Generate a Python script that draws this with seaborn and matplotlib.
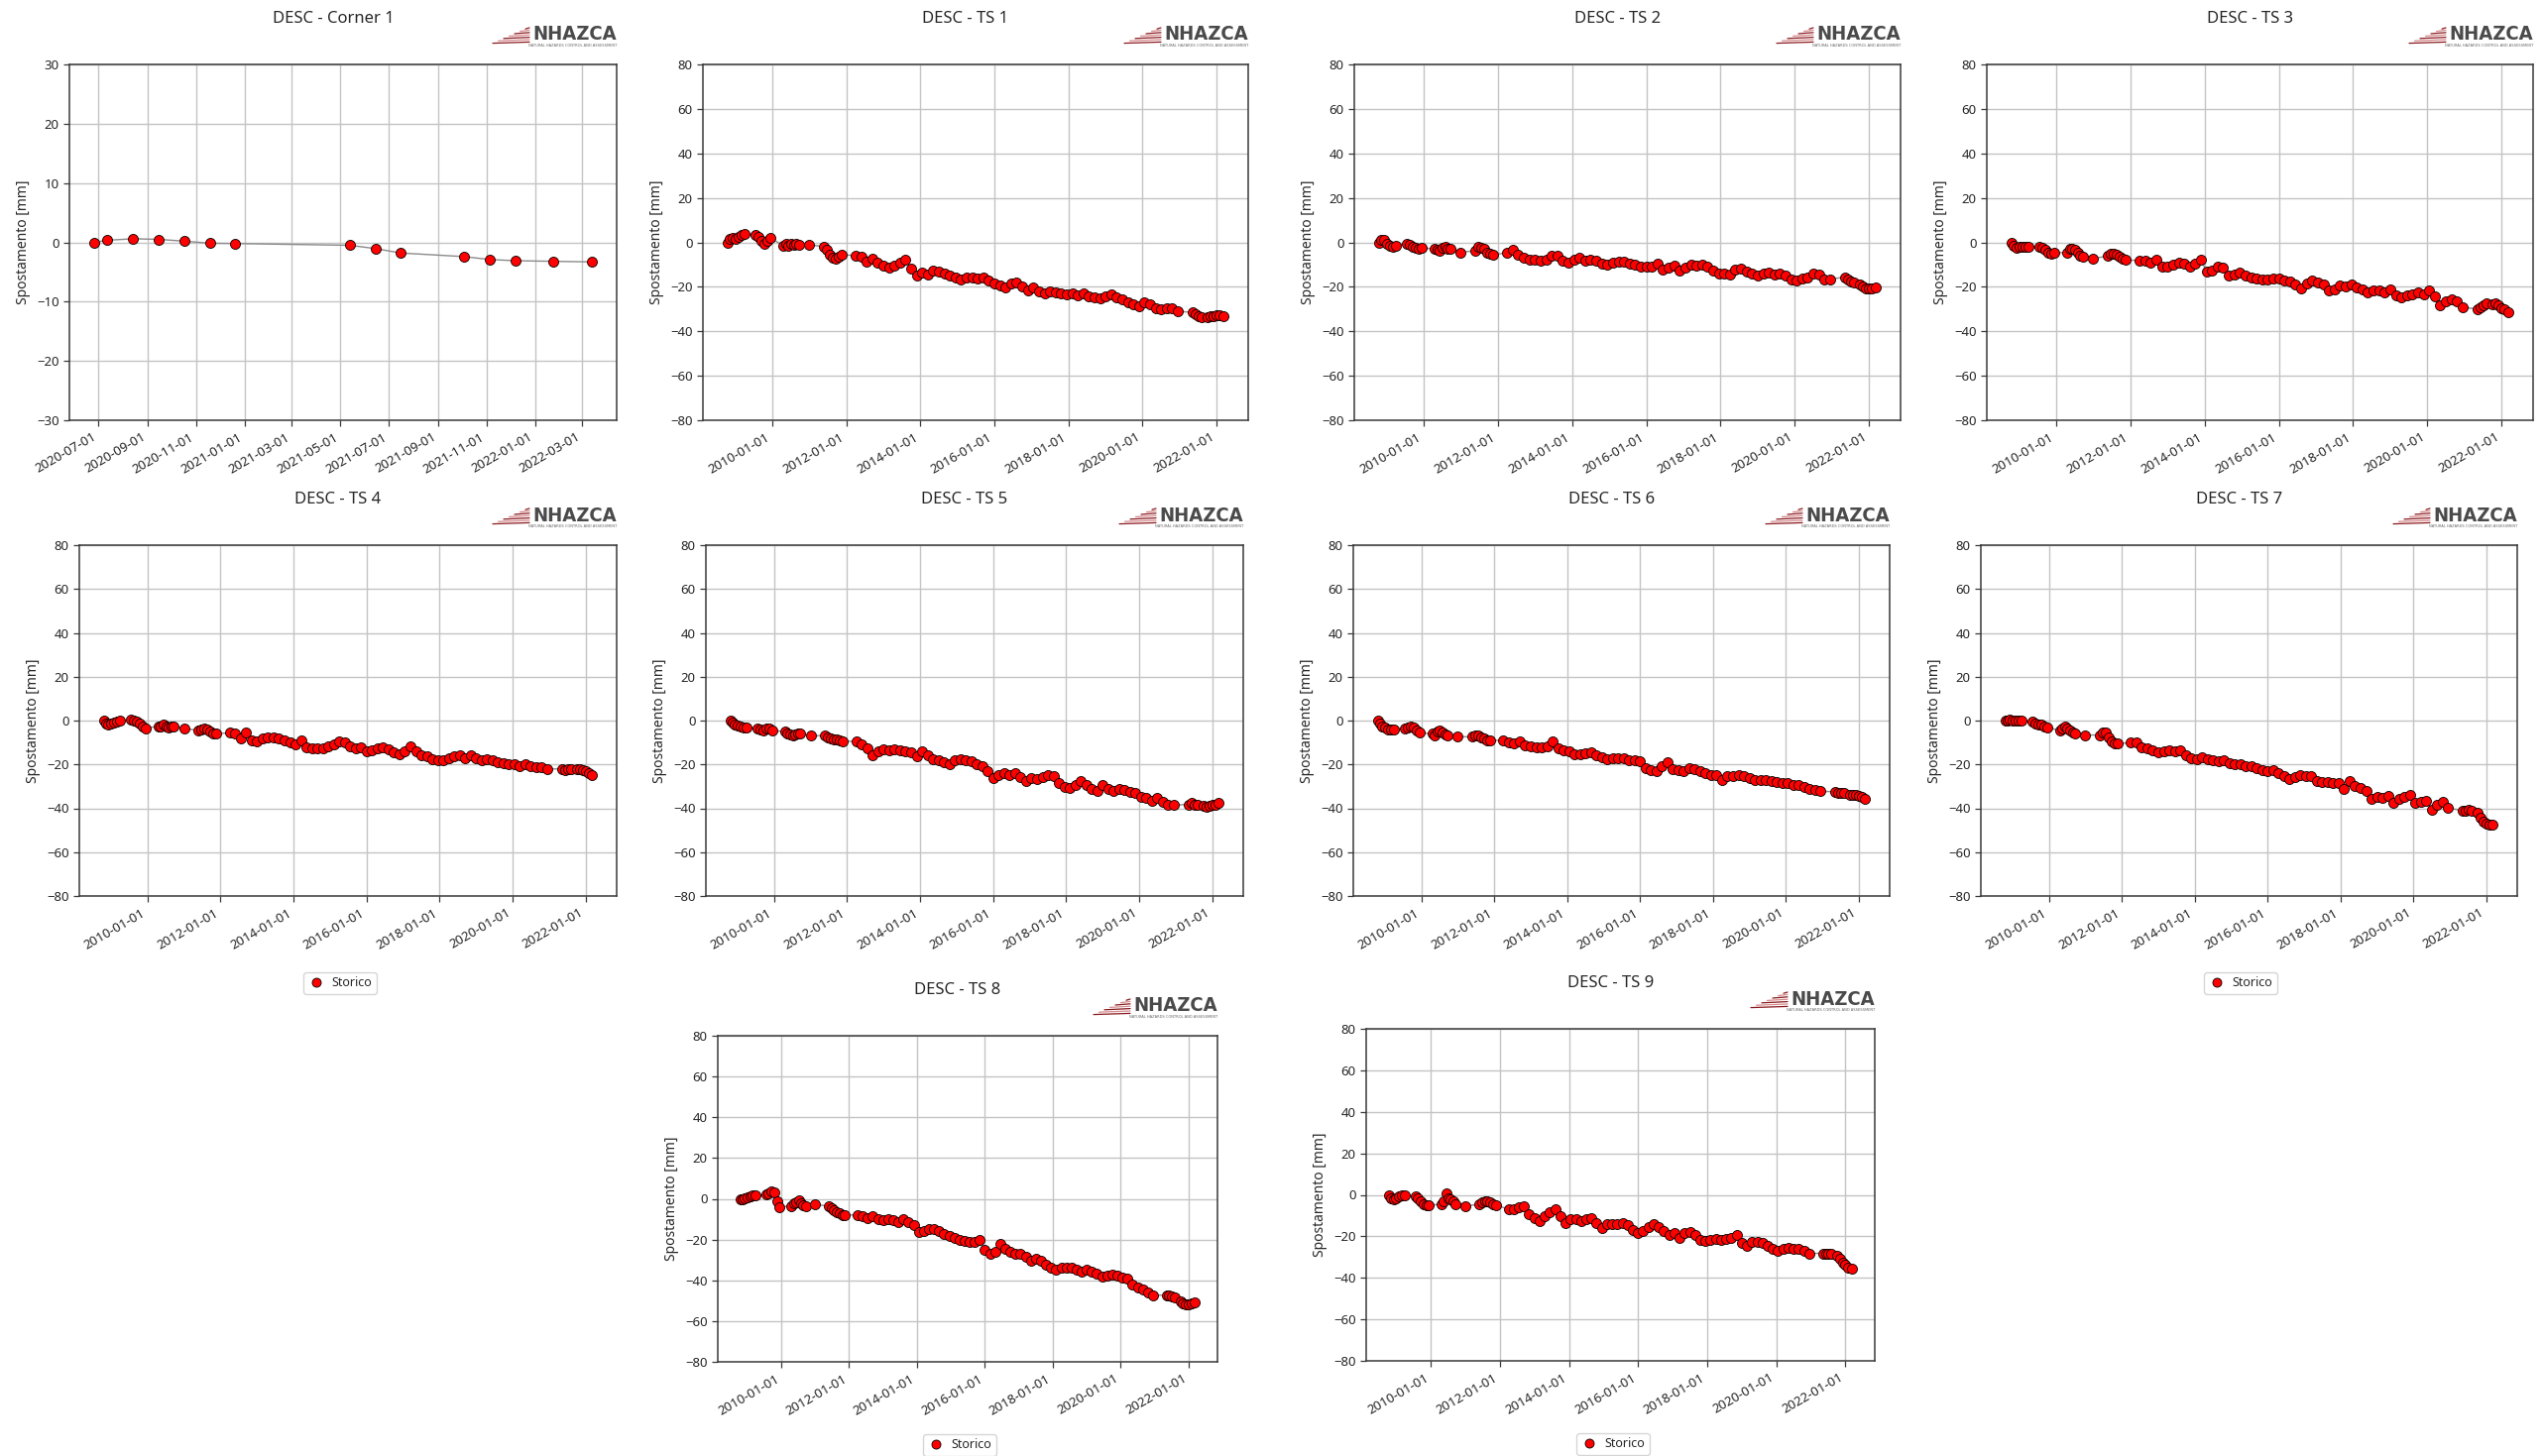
"""
DESC time series (NHAZCA report) - Corner 1 + TS 1..9
"""
import numpy as np
import pandas as pd
import matplotlib
matplotlib.use('Agg')
import matplotlib.pyplot as plt
import matplotlib.dates as mdates
from matplotlib.lines import Line2D
import seaborn as sns

# ─────────────────────────────────────────────
# DATA
# ─────────────────────────────────────────────

# Corner reflector (monthly acquisitions)
CORNER_DATES = ['2020-06-26', '2020-07-12', '2020-08-14', '2020-09-15', '2020-10-17',
                '2020-11-18', '2020-12-20', '2021-05-13', '2021-06-14', '2021-07-16',
                '2021-10-03', '2021-11-05', '2021-12-07', '2022-01-24', '2022-03-13']
CORNER_MM = [0, 0.35, 0.6, 0.5, 0.2, -0.15, -0.2, -0.5, -1.05, -1.8,
             -2.4, -2.9, -3.1, -3.2, -3.3]

# acquisition epochs shared by the TS points (decimal years)
ACQ_YEARS = [
    2008.80, 2008.86, 2008.93, 2009.00, 2009.08, 2009.16, 2009.24,
    2009.55, 2009.63, 2009.71, 2009.79, 2009.87, 2009.95,
    2010.30, 2010.37, 2010.44, 2010.51, 2010.58, 2010.65, 2010.72,
    2011.00,
    2011.40, 2011.48, 2011.56, 2011.64, 2011.72, 2011.80, 2011.88,
    2012.25, 2012.40, 2012.55, 2012.70, 2012.85, 2013.00, 2013.15, 2013.30, 2013.45, 2013.60,
    2013.75, 2013.90, 2014.05, 2014.20, 2014.35, 2014.50, 2014.65, 2014.80, 2014.95, 2015.10,
    2015.25, 2015.40, 2015.55, 2015.70, 2015.85, 2016.00, 2016.15, 2016.30, 2016.45, 2016.60,
    2016.75, 2016.90, 2017.05, 2017.20, 2017.35, 2017.50, 2017.65, 2017.80, 2017.95, 2018.10,
    2018.25, 2018.40, 2018.55, 2018.70, 2018.85, 2019.00, 2019.15, 2019.30, 2019.45, 2019.60,
    2019.75, 2019.90, 2020.05, 2020.20, 2020.35, 2020.50, 2020.65, 2020.80, 2020.95,
    2021.35, 2021.43, 2021.51, 2021.60, 2021.76, 2021.84, 2021.92, 2022.00, 2022.08, 2022.18,
]

TS1 = [0, 1.5, 2, 1.5, 2.5, 3.5, 4,
       3.5, 2.5, 0.5, -0.5, 0.5, 2,
       -1.5, -0.5, -1.5, -0.5, -1, -0.5, -1,
       -1,
       -2, -3.5, -5.5, -7, -7.5, -6.5, -5.5,
       -6, -6.5, -8.5, -7.5, -9, -10.5, -11.5, -10.5, -9, -8,
       -12, -15, -13.5, -14.5, -12.5, -13, -14, -15, -16, -16.5,
       -16, -16, -16.3, -16, -17, -18.5, -19.5, -20.5, -18.5, -18,
       -20, -21.5, -20.5, -22, -23, -22, -22.5, -23, -23.3, -23,
       -24, -23, -24.5, -24.8, -25, -24.5, -23.3, -24.8, -25.5, -27,
       -28, -28.8, -27, -27.7, -29.5, -30.3, -29.8, -29.8, -31,
       -31.5, -32.5, -33.3, -33.6, -33.6, -33.3, -33, -32.6, -32.6, -33]

TS2 = [0, 1, 1, -0.5, -1.5, -2, -1.5,
       -0.5, -1, -2, -2.5, -3, -2.5,
       -3, -3.5, -4, -2.5, -2, -3, -3,
       -4.5,
       -3.7, -2, -2.5, -3, -4.5, -5, -5.5,
       -4.7, -3.3, -5.5, -7, -7.7, -7.7, -8.4, -7.7, -6.2, -6.2,
       -8.4, -9.2, -7.7, -6.7, -8.4, -7.7, -8.1, -9.5, -10, -9.2,
       -8.9, -8.9, -9.5, -10, -10.7, -11.1, -10.7, -9.6, -12.1, -11.4,
       -10.4, -12.6, -11.4, -10, -10.4, -10, -10.7, -12.9, -14, -14,
       -14.4, -12.1, -11.8, -13.2, -14, -15.1, -14, -13.8, -14.7, -14,
       -15.1, -16.6, -17, -16.1, -15.6, -14, -14.7, -16.6, -16.6,
       -15.6, -16.6, -17.6, -18, -19.1, -20, -20.7, -20.7, -20.6, -20.3]

TS3 = [0, -1.5, -2.5, -2, -1.8, -1.8, -1.8,
       -1.8, -2.5, -3.5, -4.5, -5, -4.8,
       -4.5, -3, -2.8, -3.5, -4.5, -6, -6.5,
       -7.4,
       -6, -5, -5, -5.5, -6.5, -7.5, -8,
       -8.1, -8.4, -9.2, -7.7, -10.7, -10.7, -10, -9.2, -9.6, -11.1,
       -9.6, -7.7, -13.2, -12.9, -10.7, -11.4, -15.1, -14.4, -13.6, -15.1,
       -15.9, -16.3, -16.6, -16.6, -16.1, -16.3, -17, -17.6, -19.1, -20.6,
       -18.5, -17, -18, -19.1, -21.8, -21, -19.6, -20, -19.1, -20.3,
       -21, -22.5, -21.5, -21.8, -22.5, -21, -24, -24.7, -24, -23.3,
       -22.5, -23.3, -21.5, -24.4, -28.4, -26.7, -25.5, -26.5, -29.2,
       -30, -29.2, -28.4, -27.4, -27.7, -27.4, -28.4, -29.5, -30, -31.4]

TS4 = [0, -1.2, -1.7, -1.5, -1, -0.3, 0,
       0.3, 0, -0.5, -1.5, -2.5, -3.5,
       -2.5, -2.8, -2, -2.5, -3, -2.8, -2.5,
       -3.6,
       -4.5, -4, -3.8, -4.2, -5, -5.8, -6,
       -5.6, -5.9, -8.1, -5.6, -8.9, -9.6, -8.1, -7.8, -7.8, -8.1,
       -8.9, -10.1, -10.7, -8.9, -12.2, -12.6, -12.6, -12.6, -11.9, -10.7,
       -9.6, -10.1, -11.6, -12.6, -12.2, -14.1, -13.4, -12.8, -12.2, -13.2,
       -14.6, -15.2, -14.1, -11.6, -14.1, -15.6, -16.4, -17.6, -18.2, -18.2,
       -17.1, -16.4, -15.6, -17.1, -16, -17.1, -18.2, -17.6, -18.2, -19.1,
       -19.4, -20.1, -19.7, -20.6, -19.8, -20.9, -21.2, -21.4, -22,
       -22.1, -22.7, -22.1, -22.1, -22, -22.1, -22.4, -23.2, -23.9, -24.7]

TS5 = [0, -1, -1.7, -2.3, -2.8, -3, -3.2,
       -3.5, -4, -4.3, -3.6, -3.8, -4.6,
       -5, -5.8, -6.5, -6.8, -6.2, -5.8, -6,
       -7,
       -6.8, -7.5, -8, -8.4, -8.7, -9, -9.3,
       -9.6, -10.7, -12.6, -15.6, -14.1, -13.1, -13.4, -13.1, -13.7, -14.1,
       -14.6, -16.4, -14.1, -15.6, -17.6, -18.2, -19.1, -19.7, -18.2, -17.6,
       -17.9, -18.6, -19.7, -20.6, -23.2, -26.2, -24.7, -23.9, -24.7, -23.9,
       -25.7, -27.7, -26.2, -26.6, -25.7, -24.7, -25.4, -28.4, -30.2, -30.7,
       -29.2, -27.7, -29.2, -31.4, -32.2, -29.6, -31.1, -32.2, -31.1, -31.7,
       -32.6, -32.9, -34.7, -35.2, -36.7, -35.2, -37.1, -38.6, -38.6,
       -38.2, -37.7, -38.2, -38.6, -38.9, -39.4, -38.9, -38.6, -38.2, -37.7]

TS6 = [0, -1.5, -2.5, -3.2, -4, -4.2, -4,
       -3.5, -3, -2.9, -3.3, -4.3, -5.6,
       -6, -7, -5, -4.5, -5.5, -6.3, -7,
       -7.4,
       -7.4, -7, -6.8, -7.5, -8.2, -8.9, -9.2,
       -8.9, -10.1, -10.4, -9.3, -11.1, -11.9, -12.2, -12.2, -11.6, -9.6,
       -12.6, -13.4, -14.1, -15.2, -15.3, -14.9, -14.6, -15.6, -16.7, -17.6,
       -17.1, -17.1, -17.4, -17.9, -18.2, -18.6, -21.7, -22.4, -23.2, -20.9,
       -19.1, -22.1, -22.4, -23.2, -21.7, -22.1, -23.2, -23.9, -24.7, -24.7,
       -26.9, -25.4, -25.1, -24.7, -25.4, -26.2, -26.9, -27.2, -27.2, -27.7,
       -28.1, -28.4, -28.7, -29.2, -29.6, -30.2, -31.1, -31.7, -32.2,
       -32.5, -32.9, -33.2, -33.2, -33.7, -34, -34.1, -34.4, -34.9, -35.6]

TS7 = [0, 0.2, 0.3, 0.2, 0, -0.2, -0.2,
       -0.5, -1.2, -1.6, -2, -2.5, -3.2,
       -4.5, -3.5, -2.5, -3.5, -4.5, -5.3, -6,
       -6.6,
       -6.6, -5.3, -5.5, -7.5, -9.5, -10.4, -10.5,
       -10.1, -10.1, -12.2, -12.6, -13.4, -14.6, -14.1, -13.4, -14.1, -13.7,
       -16, -17.1, -17.6, -16.7, -17.6, -18.2, -18.6, -18.2, -19.4, -19.7,
       -20.1, -20.6, -20.6, -21.7, -22.7, -23.2, -22.7, -23.9, -25.4, -26.6,
       -25.7, -24.7, -25.1, -25.4, -27.7, -28.1, -28.1, -28.7, -28.4, -31.4,
       -27.7, -29.9, -30.7, -32.2, -35.6, -34.7, -35.2, -34.4, -37.4, -35.6,
       -34.7, -34.1, -37.7, -37.1, -36.7, -40.5, -38.2, -37.1, -39.7,
       -41.2, -41.2, -40.8, -41.2, -42, -44.2, -46.2, -47.2, -47.5, -47.5]

TS8 = [0, 0, 0.2, 0.5, 1, 1.5, 1.5,
       2, 2.5, 3.8, 3.2, -1, -4,
       -3.5, -2, -1.5, -0.5, -2, -3, -3.5,
       -2.9,
       -3.5, -4.5, -5.5, -6.5, -7.2, -7.8, -8,
       -7.9, -8.5, -9.5, -8.5, -10.2, -10.6, -9.8, -10.6, -11.5, -9.8,
       -11.5, -13.1, -16.3, -16, -14.7, -15, -16, -17.1, -18.2, -19.2,
       -20, -20.8, -21.1, -21.1, -20.3, -25.2, -26.8, -26, -21.9, -24.4,
       -26, -26.8, -26.8, -28.4, -30.5, -29.5, -30.5, -32.4, -33.7, -34.8,
       -33.7, -34, -33.7, -34.8, -35.6, -34.8, -35.6, -36.9, -38.1, -37.6,
       -37.3, -37.6, -38.5, -39.2, -42.1, -43.4, -44.5, -45.8, -47.3,
       -47.3, -47.3, -47.7, -48.5, -50.2, -51.5, -51.8, -51.8, -51.3, -51]

TS9 = [0, -1.8, -2.2, -1.5, -0.6, -0.3, -0.3,
       -0.5, -1.5, -3, -4.3, -5, -5,
       -4.5, -3, 0.5, -1.5, -2, -3, -4.5,
       -5.4,
       -4.5, -3.5, -3, -3, -3.5, -4.5, -5.2,
       -6.7, -6.7, -6.2, -5.4, -9.4, -11, -12.6, -10.2, -8.3, -7,
       -10.2, -13.4, -11.8, -11.8, -12.6, -11.5, -11, -13.8, -15.8, -14.2,
       -14.2, -14.2, -13.8, -14.7, -17, -18.2, -17.4, -15.4, -14.2, -15.4,
       -17.4, -19.5, -18.6, -20.6, -18.6, -17.9, -19.5, -21.8, -22.2, -21.8,
       -21.4, -21.8, -21.1, -20.6, -19.5, -23, -24.6, -22.7, -22.7, -23,
       -24.6, -26.2, -27, -26.2, -25.4, -25.9, -25.9, -27, -28.2,
       -28.2, -28.2, -28.6, -28.6, -29.4, -31, -32.6, -33.9, -35, -35.8]

TITLES = ['DESC - Corner 1', 'DESC - TS 1', 'DESC - TS 2', 'DESC - TS 3',
          'DESC - TS 4', 'DESC - TS 5', 'DESC - TS 6', 'DESC - TS 7',
          'DESC - TS 8', 'DESC - TS 9']
LEGEND_LABEL = 'Storico'
YLABEL = 'Spostamento [mm]'

# ─────────────────────────────────────────────
# LAYOUT (pixels on the 2564 x 1469 canvas)
# ─────────────────────────────────────────────

W, H = 2564, 1469
# left, right, top, bottom of every axes box
BOXES = [(70, 622, 65, 424), (709, 1259, 65, 424), (1366, 1917, 65, 424), (2004, 2555, 65, 424),
         (80, 622, 550, 904), (712, 1254, 550, 904), (1365, 1906, 550, 904), (1998, 2539, 550, 904),
         (724, 1228, 1045, 1374), (1378, 1891, 1038, 1373)]
# legend centre x / top y for the panels whose legend is visible
LEGENDS = {4: (343, 981), 7: (2260, 981), 8: (968, 1447), 9: (1627, 1446)}


def px(x, y):
    return x / W, 1 - y / H


def to_dates(years):
    return [pd.Timestamp(int(y), 1, 1) + pd.Timedelta(days=(y - int(y)) * 365.25) for y in years]


def draw_logo(fig, right, top):
    """NHAZCA logo drawn above the top-right corner of an axes box."""
    x, y = px(right, top - 30)
    fig.text(x, y, 'NHAZCA', ha='right', va='center', fontsize=14.5, fontweight='bold',
             color='#4a4a4a', family='DejaVu Sans', fontstretch='condensed')
    x, y = px(right, top - 19)
    fig.text(x, y, 'NATURAL HAZARDS CONTROL AND ASSESSMENT', ha='right', va='center',
             fontsize=2.6, color='#666666', family='DejaVu Sans')
    # red striped wedge left of the lettering
    x_end = right - 88
    for i in range(7):
        yy = top - 37 + i * 2.4
        x0, y0 = px(x_end - 4 - i * 5.5, yy + 1.2)
        x1, y1 = px(x_end, yy)
        col = '#8a1a1f' if i % 2 == 0 else '#d58a8d'
        fig.add_artist(Line2D([x0, x1], [y0, y1], color=col, lw=0.9))


def style_axes(ax):
    ax.grid(True, color='#c4c4c4', lw=1.0)
    ax.set_axisbelow(True)
    for s in ax.spines.values():
        s.set_color('#3a3a3a')
        s.set_linewidth(1.1)
    ax.tick_params(direction='out', length=4, width=0.9, colors='#3a3a3a',
                   labelcolor='#262626', labelsize=9.5)
    ax.set_ylabel(YLABEL, fontsize=10, color='#262626')
    ax.set_xlabel('')
    plt.setp(ax.get_xticklabels(), rotation=30, ha='right', rotation_mode='default')


# ─────────────────────────────────────────────
# PLOT
# ─────────────────────────────────────────────

sns.set_style('ticks')
plt.rcParams['font.family'] = ['Noto Sans', 'DejaVu Sans']

fig = plt.figure(figsize=(W / 100, H / 100), dpi=100)
fig.patch.set_facecolor('white')

ts_dates = to_dates(ACQ_YEARS)
series = [(pd.to_datetime(CORNER_DATES), CORNER_MM)]
for vals in [TS1, TS2, TS3, TS4, TS5, TS6, TS7, TS8, TS9]:
    assert len(vals) == len(ACQ_YEARS), len(vals)
    series.append((ts_dates, vals))

for i, (title, (dates, vals), box) in enumerate(zip(TITLES, series, BOXES)):
    l, r, t, b = box
    x0, y0 = px(l, b)
    ax = fig.add_axes([x0, y0, (r - l) / W, (b - t) / H])
    df = pd.DataFrame({'date': dates, 'mm': vals})

    sns.lineplot(data=df, x='date', y='mm', ax=ax, color='#8a8a8a', lw=1.0,
                 estimator=None, sort=False, zorder=2)
    sns.scatterplot(data=df, x='date', y='mm', ax=ax, color='red', edgecolor='black',
                    s=52, linewidth=0.6, zorder=3, legend=False)

    if i == 0:
        ax.set_ylim(-30, 30)
        ax.set_yticks(np.arange(-30, 31, 10))
        ax.xaxis.set_major_locator(mdates.MonthLocator(bymonth=[1, 3, 5, 7, 9, 11]))
    else:
        ax.set_ylim(-80, 80)
        ax.set_yticks(np.arange(-80, 81, 20))
        ax.xaxis.set_major_locator(mdates.YearLocator(2))
    ax.xaxis.set_major_formatter(mdates.DateFormatter('%Y-%m-%d'))
    style_axes(ax)

    tx, ty = px((l + r) / 2 - 10, t - 46)
    fig.text(tx, ty, title, ha='center', va='center', fontsize=12, color='#262626')
    draw_logo(fig, r, t)

    if i in LEGENDS:
        cx, ly = LEGENDS[i]
        handle = Line2D([], [], ls='none', marker='o', color='red', mec='black',
                        mew=0.6, ms=6.5)
        lx, lyf = px(cx, ly)
        ax.legend([handle], [LEGEND_LABEL], loc='upper center', bbox_to_anchor=(lx, lyf),
                  bbox_transform=fig.transFigure, fontsize=9, frameon=True,
                  borderpad=0.35, handletextpad=0.6, handlelength=1.3,
                  edgecolor='#cccccc', fancybox=True, borderaxespad=0)

fig.savefig('out.png', dpi=100, facecolor='white')
